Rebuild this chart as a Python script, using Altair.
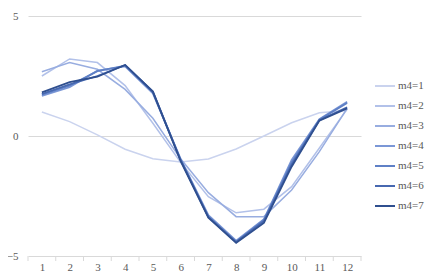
import altair as alt
import pandas as pd

months = list(range(1, 13))
series_names = ["m4=1", "m4=2", "m4=3", "m4=4", "m4=5", "m4=6", "m4=7"]
m1 = [1.0, 0.6, 0.05, -0.55, -0.95, -1.08, -0.96, -0.54, 0.0, 0.55, 0.97, 1.06]
m2 = [2.5, 3.21, 3.06, 2.1, 0.53, -1.1, -2.53, -3.2, -3.05, -2.11, -0.5, 1.12]
m3 = [2.68, 3.06, 2.78, 1.94, 0.74, -0.95, -2.36, -3.36, -3.36, -2.25, -0.65, 1.15]
m4 = [1.67, 2.03, 2.72, 2.9, 1.78, -0.95, -3.3, -4.36, -3.47, -1.0, 0.7, 1.43]
m5 = [1.72, 2.1, 2.7, 2.93, 1.82, -1.0, -3.35, -4.4, -3.5, -1.1, 0.68, 1.38]
m6 = [1.75, 2.15, 2.5, 2.96, 1.85, -1.0, -3.38, -4.42, -3.55, -1.2, 0.66, 1.2]
m7 = [1.82, 2.24, 2.47, 2.96, 1.85, -1.05, -3.4, -4.45, -3.62, -1.28, 0.64, 1.15]
all_series = [m1, m2, m3, m4, m5, m6, m7]
colors = ["#cad3ee", "#b2c1e9", "#98ade0", "#7b97d6", "#5f80c6", "#4768b0", "#2f4f8f"]
widths = [1.5, 1.5, 1.5, 1.8, 1.8, 1.8, 1.8]
tick_pos = [i + 0.5 for i in range(0, 13)]

rows = []
for name, vals, w in zip(series_names, all_series, widths):
    for m, v in zip(months, vals):
        rows.append({"month": m, "value": v, "series": name, "w": w})
df = pd.DataFrame(rows)
ticks_df = pd.DataFrame({"t": tick_pos})

FONT = "Liberation Serif"
xscale = alt.Scale(domain=[0.5, 12.5], nice=False, zero=False)
yscale = alt.Scale(domain=[-5, 5], nice=False)
xaxis = alt.Axis(values=months, title=None, grid=False, domain=False,
                 ticks=False, labelPadding=5, labelFont=FONT,
                 labelOverlap=False, labelFontSize=11, labelColor="#595959")

lines = alt.Chart(df).mark_line().encode(
    x=alt.X("month:Q", scale=xscale, axis=xaxis),
    y=alt.Y("value:Q", scale=yscale,
            axis=alt.Axis(values=[-5, 0, 5], title=None, domain=False, ticks=False,
                          gridColor="#d9d9d9", labelPadding=10, labelFont=FONT,
                          labelFontSize=11, labelColor="#595959")),
    color=alt.Color("series:N", scale=alt.Scale(domain=series_names, range=colors),
                    legend=alt.Legend(title=None, orient="none", legendX=346, legendY=59,
                                      symbolType="stroke", symbolSize=400,
                                      symbolStrokeWidth=2, labelFont=FONT,
                                      labelFontSize=11, labelColor="#595959",
                                      rowPadding=4, labelOffset=2)),
    strokeWidth=alt.StrokeWidth("w:Q", scale=None, legend=None),
    order="series:N",
)

tickmarks = alt.Chart(ticks_df).mark_rule(color="#d9d9d9").encode(
    x=alt.X("t:Q", scale=xscale, axis=xaxis),
    y=alt.value(240),
    y2=alt.value(245),
)

chart = alt.layer(lines, tickmarks).properties(
    width=333, height=240,
    autosize=alt.AutoSizeParams(type="none"),
    padding={"left": 20, "top": 8, "right": 68, "bottom": 16},
).configure_view(stroke=None)

chart.save("out.html", embed_options={"renderer": "svg", "actions": False})
